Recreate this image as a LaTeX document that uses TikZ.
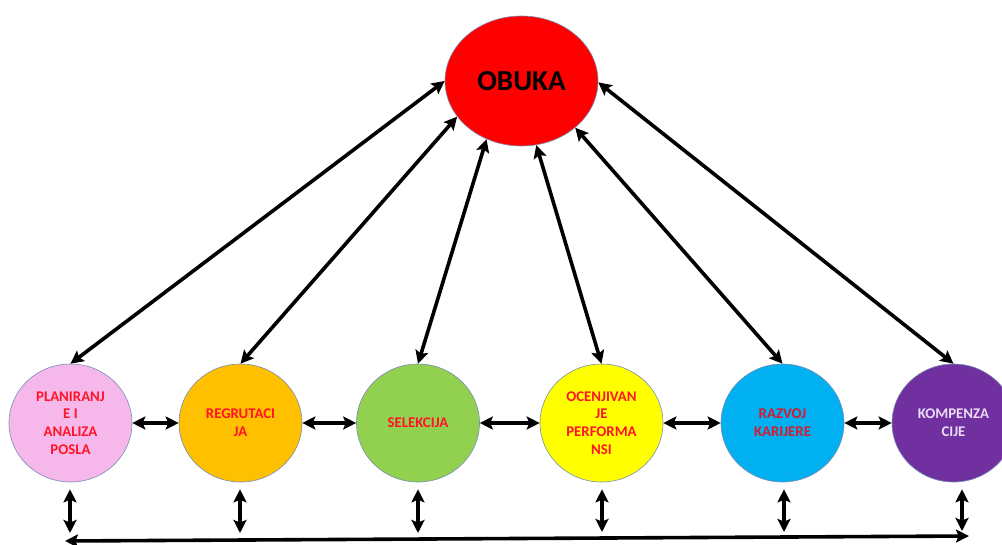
\documentclass[tikz,border=0pt]{standalone}
\usepackage{fontspec}
\setmainfont{Carlito}
\usetikzlibrary{shapes.geometric,arrows.meta}
\definecolor{cpink}{RGB}{246,184,234}
\definecolor{corange}{RGB}{255,192,0}
\definecolor{cgreen}{RGB}{146,208,80}
\definecolor{cyellow}{RGB}{255,255,0}
\definecolor{cblue}{RGB}{0,176,240}
\definecolor{cpurple}{RGB}{112,48,160}
\definecolor{cred}{RGB}{255,0,0}
\definecolor{edgeblue}{RGB}{120,140,180}
\definecolor{txtred}{RGB}{255,20,40}
\definecolor{txtlav}{RGB}{235,220,245}
\begin{document}
\begin{tikzpicture}[x=1pt,y=-1pt,
  circ/.style={ellipse, draw=edgeblue, line width=0.6pt, minimum width=123pt,
    minimum height=118pt, inner sep=0pt, align=center,
    font=\bfseries\fontsize{14.8}{17.7}\selectfont, text=txtred},
  arr/.style={line width=3.6pt,
    {Stealth[length=13pt,width=13pt,inset=2.5pt]}-{Stealth[length=13pt,width=13pt,inset=2.5pt]}}]
\clip (0,0) rectangle (1002,544);
\fill[white] (0,0) rectangle (1002,544);

\node[ellipse, draw=edgeblue, line width=0.6pt, fill=cred, minimum width=153pt,
  minimum height=130pt, inner sep=0pt, font=\bfseries\fontsize{29}{32}\selectfont]
  (ob) at (521.5,81) {OBUKA};

\node[circ, fill=cpink]   (c1) at (70.5,423) {PLANIRANJ\\E I\\ANALIZA\\POSLA};
\node[circ, fill=corange] (c2) at (240.5,423) {REGRUTACI\\JA};
\node[circ, fill=cgreen]  (c3) at (418,423) {SELEKCIJA};
\node[circ, fill=cyellow] (c4) at (601.5,423) {OCENJIVAN\\JE\\PERFORMA\\NSI};
\node[circ, fill=cblue, text={rgb,255:red,215;green,25;blue,45}] (c5) at (782.5,423) {RAZVOJ\\KARIJERE};
\node[circ, fill=cpurple, text=txtlav] (c6) at (953.5,423) {KOMPENZA\\CIJE};

% diagonal arrows to OBUKA
\draw[arr] (c1.north) -- (ob.180);
\draw[arr] (c2.north) -- (ob.209);
\draw[arr] (c3.north) -- (ob.239);
\draw[arr] (c4.north) -- (ob.283);
\draw[arr] (c5.north) -- (ob.319);
\draw[arr] (c6.north) -- (ob.359);

% horizontal arrows
\draw[arr] (c1.east) -- (c2.west);
\draw[arr] (c2.east) -- (c3.west);
\draw[arr] (c3.east) -- (c4.west);
\draw[arr] (c4.east) -- (c5.west);
\draw[arr] (c5.east) -- (c6.west);

% bottom coordinates
\coordinate (b1) at (70,533);
\coordinate (b2) at (240,533);
\coordinate (b3) at (418,533);
\coordinate (b4) at (602,532);
\coordinate (b5) at (784,532);
\coordinate (b6) at (962,531);
\coordinate (bl) at (65,541);
\coordinate (br) at (969,536);

\draw[arr, shorten <=7pt] (b1 |- c1.south) -- (b1);
\draw[arr, shorten <=7pt] (b2 |- c2.south) -- (b2);
\draw[arr, shorten <=7pt] (b3 |- c3.south) -- (b3);
\draw[arr, shorten <=7pt] (b4 |- c4.south) -- (b4);
\draw[arr, shorten <=7pt] (b5 |- c5.south) -- (b5);
\draw[arr, shorten <=7pt] (b6 |- c6.south) -- (b6);

\draw[arr] (bl) -- (br);
\end{tikzpicture}
\end{document}
